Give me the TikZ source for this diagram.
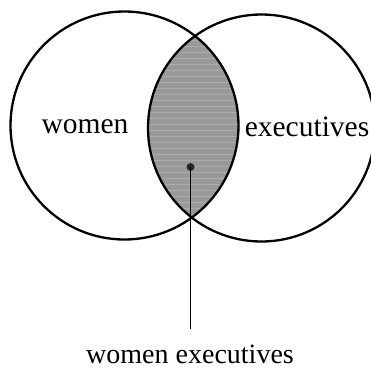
\documentclass[tikz,border=0pt]{standalone}
\usepackage{fontspec}
\setmainfont{Liberation Serif}
\begin{document}
\begin{tikzpicture}[x=1pt,y=-1pt,
  setcircle/.style={draw=black,line width=2.3pt},
  lbl/.style={font=\fontsize{29.5}{31}\selectfont,inner sep=0pt},
  blbl/.style={font=\fontsize{28}{30}\selectfont,inner sep=0pt},
  dotnode/.style={circle,fill=black!85,inner sep=0pt,minimum size=8pt},
  lens/.style={fill=black!40}]
\useasboundingbox (0,0) rectangle (371,370);
\begin{scope}
  \clip (124.5,125.5) circle (114);
  \clip (261.5,128) circle (113.5);
  \fill[lens] (261.5,128) circle (113.5);
  \foreach \yy in {40,46,...,216} {
    \draw[black!25,line width=0.6pt,opacity=0.5] (140,\yy) -- (245,\yy);
  }
\end{scope}
\node[setcircle,circle,minimum size=228pt,inner sep=0pt] (women) at (124.5,125.5) {};
\node[setcircle,circle,minimum size=227pt,inner sep=0pt] (exec) at (261.5,128) {};
\node[lbl] (wl) at (85,127) {women};
\node[lbl] (el) at (307,127) {executives};
\node[dotnode] (dot) at (190.5,167) {};
\node[blbl,anchor=base] (both) at (190,363) {women executives};
\draw[line width=1.3pt,shorten >=15pt] (dot.center) -- (both.north -| dot.center);
\end{tikzpicture}
\end{document}
